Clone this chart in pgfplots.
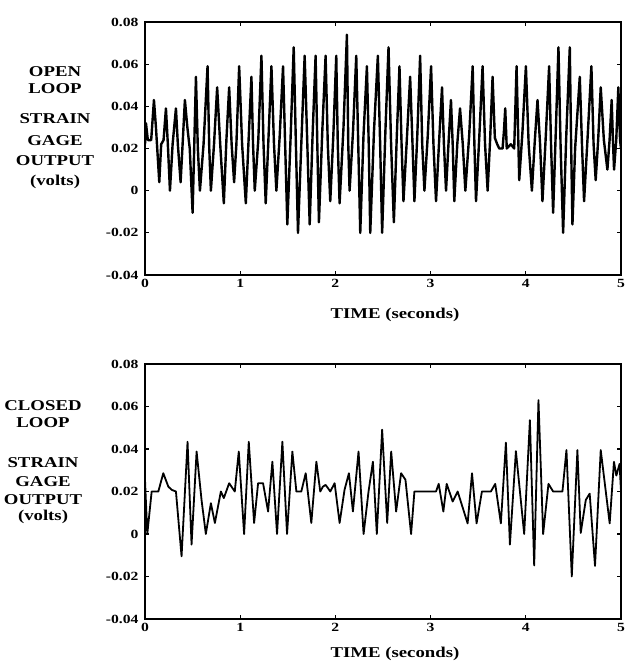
\documentclass[border=0pt]{standalone}
\usepackage{fontspec}
\setmainfont{Liberation Serif}[FakeStretch=1.25]
\usepackage{pgfplots}
\pgfplotsset{compat=1.18}
\usepackage{pgfplotstable}

\pgfplotstableread{
t v
0.000 0.022
0.010 0.032
0.030 0.024
0.065 0.024
0.094 0.043
0.115 0.030
0.150 0.004
0.170 0.022
0.195 0.024
0.220 0.039
0.240 0.022
0.262 0.000
0.290 0.022
0.325 0.039
0.345 0.022
0.374 0.004
0.395 0.022
0.419 0.043
0.445 0.030
0.470 0.020
0.500 -0.0105
0.535 0.054
0.555 0.020
0.577 0.000
0.615 0.022
0.657 0.059
0.675 0.020
0.692 0.000
0.725 0.022
0.758 0.049
0.790 0.022
0.828 -0.006
0.855 0.024
0.884 0.049
0.910 0.022
0.936 0.004
0.960 0.022
0.989 0.059
1.020 0.022
1.059 -0.006
1.090 0.026
1.118 0.054
1.135 0.022
1.153 0.000
1.190 0.024
1.223 0.064
1.245 0.022
1.268 -0.006
1.298 0.026
1.328 0.059
1.355 0.022
1.380 0.000
1.415 0.026
1.450 0.059
1.472 0.022
1.495 -0.016
1.530 0.026
1.562 0.068
1.585 0.022
1.607 -0.020
1.645 0.026
1.677 0.064
1.705 0.022
1.730 -0.016
1.760 0.026
1.792 0.064
1.810 0.022
1.827 -0.015
1.862 0.028
1.897 0.064
1.920 0.022
1.946 -0.005
1.978 0.026
2.009 0.064
2.025 0.022
2.044 -0.006
2.085 0.030
2.121 0.074
2.135 0.022
2.149 0.000
2.185 0.028
2.219 0.064
2.240 0.022
2.261 -0.020
2.295 0.026
2.331 0.059
2.350 0.022
2.366 -0.020
2.405 0.028
2.446 0.064
2.470 0.022
2.491 -0.020
2.525 0.028
2.558 0.068
2.585 0.022
2.614 -0.015
2.645 0.026
2.673 0.059
2.695 0.022
2.715 -0.005
2.750 0.024
2.785 0.054
2.810 0.022
2.830 -0.005
2.860 0.026
2.890 0.064
2.912 0.022
2.935 0.000
2.970 0.026
3.005 0.059
3.030 0.022
3.057 -0.005
3.090 0.024
3.120 0.049
3.140 0.022
3.162 0.000
3.190 0.024
3.214 0.043
3.232 0.022
3.249 -0.005
3.280 0.022
3.309 0.039
3.338 0.022
3.365 0.000
3.405 0.026
3.442 0.059
3.460 0.022
3.477 -0.005
3.512 0.026
3.546 0.059
3.572 0.022
3.599 0.000
3.625 0.024
3.651 0.054
3.675 0.025
3.700 0.022
3.721 0.020
3.756 0.020
3.770 0.028
3.784 0.039
3.800 0.020
3.843 0.022
3.878 0.020
3.903 0.059
3.931 0.005
3.965 0.028
4.001 0.059
4.030 0.022
4.064 0.000
4.095 0.024
4.123 0.043
4.150 0.022
4.175 -0.005
4.210 0.026
4.245 0.059
4.265 0.022
4.287 -0.0105
4.315 0.028
4.343 0.068
4.365 0.022
4.392 -0.020
4.425 0.026
4.462 0.068
4.476 0.022
4.490 -0.016
4.518 0.020
4.567 0.054
4.590 0.022
4.612 -0.005
4.650 0.026
4.689 0.059
4.712 0.022
4.734 0.005
4.760 0.024
4.787 0.049
4.820 0.024
4.857 0.010
4.880 0.024
4.902 0.043
4.915 0.024
4.927 0.010
4.950 0.024
4.972 0.049
4.990 0.024
5.000 0.020
}\openloop

\pgfplotstableread{
t v
0.000 0.0255
0.024 0.000
0.070 0.020
0.140 0.020
0.192 0.0286
0.245 0.0223
0.280 0.0208
0.325 0.020
0.384 -0.0105
0.447 0.0434
0.489 -0.005
0.542 0.0388
0.594 0.016
0.639 0.000
0.692 0.0145
0.734 0.0052
0.797 0.020
0.828 0.0169
0.884 0.0239
0.943 0.020
0.985 0.0388
1.041 0.000
1.090 0.0434
1.146 0.0052
1.188 0.0239
1.240 0.0239
1.293 0.0106
1.338 0.034
1.387 0.000
1.443 0.0434
1.492 0.000
1.548 0.0388
1.590 0.020
1.642 0.020
1.688 0.0286
1.747 0.0052
1.800 0.034
1.841 0.020
1.869 0.0223
1.897 0.0231
1.922 0.0216
1.946 0.020
1.992 0.0239
2.044 0.0052
2.096 0.0208
2.142 0.0286
2.184 0.0106
2.243 0.0388
2.296 0.000
2.348 0.020
2.394 0.034
2.435 0.000
2.491 0.0491
2.544 0.0052
2.586 0.0388
2.638 0.0106
2.690 0.0286
2.736 0.0255
2.795 0.000
2.830 0.020
3.057 0.020
3.085 0.0236
3.134 0.0106
3.169 0.0236
3.232 0.0153
3.284 0.020
3.389 0.005
3.435 0.0286
3.483 0.005
3.539 0.020
3.633 0.020
3.679 0.0236
3.738 0.005
3.791 0.043
3.833 -0.005
3.896 0.039
3.983 0.000
4.043 0.0536
4.088 -0.0148
4.133 0.063
4.182 0.000
4.238 0.0236
4.287 0.020
4.385 0.020
4.427 0.0395
4.483 -0.020
4.542 0.0395
4.577 0.0005
4.630 0.016
4.671 0.019
4.727 -0.015
4.787 0.0395
4.881 0.005
4.926 0.034
4.951 0.0275
4.985 0.033
5.000 0.020
}\closedloop

\pgfplotsset{
  strain/.style={
    scale only axis,
    anchor=south west,
    width=476pt,
    xmin=0, xmax=5,
    ymin=-0.04, ymax=0.08,
    scaled y ticks=false,
    scaled x ticks=false,
    xtick={0,1,2,3,4,5},
    xticklabels={0,1,2,3,4,5},
    ytick={-0.04,-0.02,0,0.02,0.04,0.06,0.08},
    yticklabels={-0.04,-0.02,0,0.02,0.04,0.06,0.08},
    tick align=inside,
    tick pos=both,
    major tick length=4pt,
    tick style={black, line width=1.2pt},
    axis line style={black, line width=1.7pt},
    ticklabel style={font=\fontsize{12.5}{12.5}\selectfont\bfseries},
    /pgf/number format/assume math mode=true,
    yticklabel style={xshift=-3pt},
    xticklabel style={yshift=-1pt},
    clip=true,
  }
}

\begin{document}
\begin{tikzpicture}[x=1pt,y=1pt]
\useasboundingbox (0,0) rectangle (627,671);

\begin{axis}[strain, at={(145pt,396pt)}, height=253pt]
\addplot[black, line width=2.4pt, line join=round] table[x=t,y=v] {\openloop};
\end{axis}

\begin{axis}[strain, at={(145pt,52pt)}, height=255pt]
\addplot[black, line width=1.8pt, line join=round] table[x=t,y=v] {\closedloop};
\end{axis}

\begin{scope}[every node/.style={font=\fontsize{15}{15}\selectfont\bfseries, anchor=base, inner sep=0pt}]
\node at (55,594) {OPEN};
\node at (55,577) {LOOP};
\node at (55,547) {STRAIN};
\node at (55,525) {GAGE};
\node at (55,505) {OUTPUT};
\node at (55,485) {(volts)};
\node at (395,352) {TIME (seconds)};

\node at (43,260) {CLOSED};
\node at (43,243) {LOOP};
\node at (43,203) {STRAIN};
\node at (43,184) {GAGE};
\node at (43,166) {OUTPUT};
\node at (43,150) {(volts)};
\node at (395,13) {TIME (seconds)};
\end{scope}
\end{tikzpicture}
\end{document}
